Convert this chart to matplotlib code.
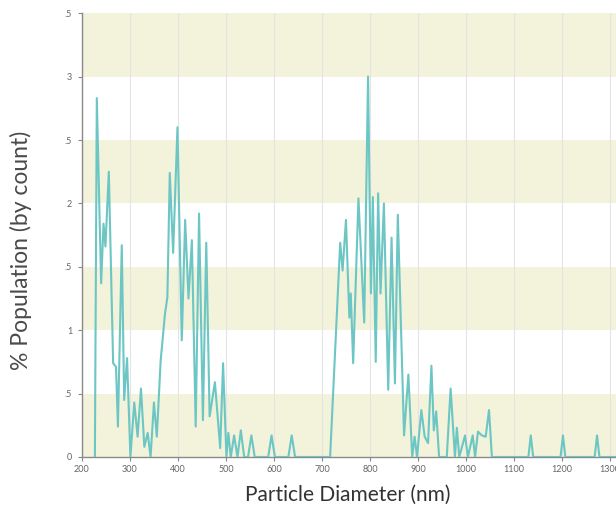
import matplotlib
matplotlib.use("Agg")
import matplotlib.pyplot as plt

# particle size distribution
diameter_nm = [
    227, 231, 240, 245, 249, 256, 265, 271, 275, 283, 288, 294, 301, 309, 316,
    323, 330, 337, 343, 350, 356, 364, 373, 378, 383, 390, 399, 408, 415, 422,
    429, 437, 444, 452, 459, 466, 477, 488, 494, 501, 505, 510, 517, 524, 531,
    538, 546, 553, 560, 588, 595, 602, 630, 637, 644, 717, 738, 743, 750, 757,
    760, 765, 776, 788, 796, 802, 806, 812, 817, 822, 829, 838, 845, 852, 858,
    871, 880, 888, 893, 898, 907, 914, 921, 928, 933, 938, 944, 960, 968, 977,
    981, 986, 998, 1004, 1014, 1019, 1025, 1033, 1041, 1048, 1054, 1130, 1135,
    1140, 1197, 1202, 1207, 1268, 1273, 1278, 1320,
]
population_pct = [
    0, 2.83, 1.37, 1.84, 1.66, 2.25, 0.74, 0.71, 0.24, 1.67, 0.45, 0.78, 0, 0.43, 0.16,
    0.54, 0.08, 0.19, 0, 0.43, 0.16, 0.76, 1.13, 1.26, 2.24, 1.61, 2.6, 0.92, 1.87, 1.25,
    1.71, 0.24, 1.92, 0.29, 1.69, 0.32, 0.59, 0.07, 0.74, 0, 0.19, 0, 0.17, 0, 0.21,
    0, 0, 0.17, 0, 0, 0.17, 0, 0, 0.17, 0, 0, 1.69, 1.47, 1.87, 1.1,
    1.29, 0.74, 2.04, 1.06, 3.0, 1.29, 2.05, 0.75, 2.08, 1.29, 2.0, 0.53, 1.73, 0.58, 1.91,
    0.17, 0.65, 0, 0.16, 0, 0.37, 0.16, 0.11, 0.72, 0.21, 0.36, 0, 0, 0.54, 0,
    0.23, 0, 0.17, 0, 0.17, 0, 0.2, 0.17, 0.16, 0.37, 0, 0, 0.17,
    0, 0, 0.17, 0, 0, 0.17, 0, 0,
]

x_ticks = [200, 300, 400, 500, 600, 700, 800, 900, 1000, 1100, 1200, 1300]
y_ticks = [0, 0.5, 1, 1.5, 2, 2.5, 3, 3.5]
# left part of the y labels is cut off in the original
y_tick_labels = ["0", ".5", "1", ".5", "2", ".5", "3", ".5"]
band_starts = [0, 1, 2, 3]

plt.rcParams["font.family"] = ["Lato", "DejaVu Sans"]

fig = plt.figure(figsize=(6.16, 5.08), dpi=100)
ax = fig.add_axes([0.133, 0.1004, 0.867, 0.8736])

for start in band_starts:
    ax.axhspan(start, start + 0.5, color="#f3f2da", zorder=0, lw=0)
for xt in x_ticks:
    ax.axvline(xt, color="#e4e4e4", lw=0.8, zorder=1)

ax.plot(diameter_nm, population_pct, color="#6cc6c4", lw=1.5, zorder=3)

ax.set_xlim(200, 1312.5)
ax.set_ylim(0, 3.5)
ax.set_xticks(x_ticks)
ax.set_yticks(y_ticks)
ax.set_yticklabels(y_tick_labels)

ax.tick_params(axis="both", labelsize=6.5, colors="#888888", labelcolor="#666666",
               length=3, width=0.8)
ax.tick_params(axis="y", pad=4)
ax.tick_params(axis="x", pad=3)

for side in ["top", "right"]:
    ax.spines[side].set_visible(False)
for side in ["left", "bottom"]:
    ax.spines[side].set_color("#8a8a8a")
    ax.spines[side].set_linewidth(1.0)

ax.set_ylabel("% Population (by count)", fontsize=16.5, color="#4a4a4a")
ax.yaxis.set_label_coords(-0.094, 0.466)
ax.set_xlabel("Particle Diameter (nm)", fontsize=15, color="#333333")
ax.xaxis.set_label_coords(0.498, -0.063)

fig.savefig("out.png", dpi=100)
